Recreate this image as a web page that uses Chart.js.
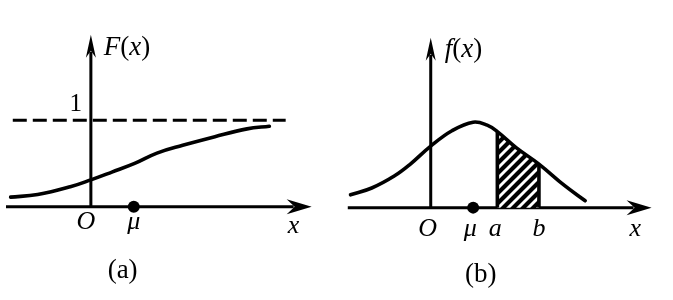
<!DOCTYPE html>
<html>
<head>
<meta charset="utf-8">
<script src="https://cdn.jsdelivr.net/npm/chart.js@4.4.1/dist/chart.umd.min.js"></script>
<style>
  html, body { margin: 0; padding: 0; background: #fff; }
  #wrap { position: relative; width: 673px; height: 300px; overflow: hidden; background: #fff; }
  .pane { position: absolute; top: 0; height: 300px; }
  #paneA { left: 0; width: 336px; }
  #paneB { left: 336px; width: 337px; }
</style>
</head>
<body>
<div id="wrap">
  <div class="pane" id="paneA"><canvas id="chartA" width="336" height="300"></canvas></div>
  <div class="pane" id="paneB"><canvas id="chartB" width="337" height="300"></canvas></div>
</div>
<script>
  // ── Data (math units) ───────────────────────────────────────────
  // (a) distribution function F(x)
  const cdfX = [-1.87, -1.24, -0.48, 0, 0.49, 1.02, 1.54, 2.14, 2.89, 3.64, 4.16];
  const cdfY = [0.11, 0.14, 0.23, 0.31, 0.40, 0.50, 0.62, 0.71, 0.81, 0.90, 0.93];
  const dashX = [-1.82, 4.54];
  const dashY = [1, 1];
  const muA = 1;

  // (b) density f(x)
  const pdfX = [-1.89, -1.39, -0.86, -0.48, 0, 0.5, 1.0, 1.33, 1.57, 2.02, 2.55, 3.15, 3.64];
  const pdfY = [0.15, 0.23, 0.37, 0.51, 0.72, 0.90, 1.00, 0.965, 0.89, 0.70, 0.51, 0.26, 0.08];
  const hatchX = [1.57, 2.02, 2.55];
  const hatchY = [0.89, 0.70, 0.51];
  const aVal = 1.57, bVal = 2.55;
  const muB = 1;

  // tick labels
  const ticksA = ['O', 'μ', 'x'];
  const tickValsA = [0, muA, 4.72];
  const ticksB = ['O', 'μ', 'a', 'b', 'x'];
  const tickValsB = [0, muB, aVal, bVal, 4.82];
  const captions = ['(a)', '(b)'];

  const pts = (xs, ys) => xs.map((x, i) => ({ x, y: ys[i] }));

  // ── Hatch pattern ───────────────────────────────────────────────
  function makeHatch() {
    const c = document.createElement('canvas');
    c.width = c.height = 10;
    const g = c.getContext('2d');
    g.fillStyle = '#000'; g.fillRect(0, 0, 10, 10);
    g.strokeStyle = '#fff'; g.lineWidth = 2.9;
    g.beginPath();
    g.moveTo(-5, 5); g.lineTo(5, -5);
    g.moveTo(0, 10); g.lineTo(10, 0);
    g.moveTo(5, 15); g.lineTo(15, 5);
    g.stroke();
    return g.createPattern(c, 'repeat');
  }

  // ── Drawing helpers ─────────────────────────────────────────────
  const SERIF = '"Liberation Serif", "DejaVu Serif", serif';

  function arrowH(ctx, tx, ty) {
    ctx.beginPath();
    ctx.moveTo(tx, ty);
    ctx.lineTo(tx - 25, ty - 7.5);
    ctx.lineTo(tx - 17, ty);
    ctx.lineTo(tx - 25, ty + 7.5);
    ctx.closePath(); ctx.fill();
  }
  function arrowV(ctx, tx, ty) {
    ctx.beginPath();
    ctx.moveTo(tx, ty);
    ctx.lineTo(tx - 5, ty + 23);
    ctx.lineTo(tx, ty + 16);
    ctx.lineTo(tx + 5, ty + 23);
    ctx.closePath(); ctx.fill();
  }
  function mixed(ctx, parts, x, y, size) {
    ctx.textAlign = 'left'; ctx.textBaseline = 'middle';
    for (const [t, it] of parts) {
      ctx.font = (it ? 'italic ' : '') + size + 'px ' + SERIF;
      ctx.fillText(t, x, y);
      x += ctx.measureText(t).width;
    }
  }
  function label(ctx, t, x, y, size, italic) {
    ctx.font = (italic ? 'italic ' : '') + size + 'px ' + SERIF;
    ctx.textAlign = 'center'; ctx.textBaseline = 'middle';
    ctx.fillText(t, x, y);
  }

  // axes plugin: draws the math axes with arrows at x=0 / y=0
  function axesPlugin(ext) {
    return {
      id: 'axes',
      beforeDatasetsDraw(chart) {
        const { ctx, scales: { x, y } } = chart;
        const x0 = x.getPixelForValue(0), y0 = y.getPixelForValue(0);
        const xs = x.getPixelForValue(ext.xFrom), xe = x.getPixelForValue(ext.xTo);
        const ye = y.getPixelForValue(ext.yTo);
        ctx.save();
        ctx.strokeStyle = '#000'; ctx.fillStyle = '#000'; ctx.lineWidth = 3;
        ctx.beginPath();
        ctx.moveTo(xs, y0); ctx.lineTo(xe - 18, y0);
        ctx.moveTo(x0, y0); ctx.lineTo(x0, ye + 17);
        ctx.stroke();
        arrowH(ctx, xe, y0);
        arrowV(ctx, x0, ye);
        ctx.restore();
      }
    };
  }

  function labelsPlugin(draw) {
    return { id: 'labels', afterDraw(chart) {
      const { ctx, scales: { x, y } } = chart;
      ctx.save(); ctx.fillStyle = '#000';
      draw(ctx, x, y);
      ctx.restore();
    } };
  }

  const baseOpts = (xmin, xmax, ymin, ymax) => ({
    responsive: false, animation: false, devicePixelRatio: 1,
    layout: { padding: 0 },
    plugins: { legend: { display: false }, tooltip: { enabled: false } },
    scales: {
      x: { type: 'linear', display: false, min: xmin, max: xmax },
      y: { type: 'linear', display: false, min: ymin, max: ymax }
    },
    elements: { point: { radius: 0 } }
  });

  const curve = (data) => ({
    data, borderColor: '#000', borderWidth: 3.6, fill: false,
    tension: 0.4, borderCapStyle: 'round', pointRadius: 0
  });

  // ── Chart (a) ───────────────────────────────────────────────────
  new Chart(document.getElementById('chartA'), {
    type: 'line',
    data: { datasets: [
      { ...curve(pts([muA], [0])), showLine: false, pointRadius: 6, pointBackgroundColor: '#000', pointBorderWidth: 0, order: 0 },
      { ...curve(pts(cdfX, cdfY)), order: 1 },
      { data: pts(dashX, dashY), borderColor: '#000', borderWidth: 3, borderDash: [14, 6], fill: false, pointRadius: 0, order: 2 }
    ] },
    options: baseOpts(-1.978, 5.573, -1.011, 2.322),
    plugins: [
      axesPlugin({ xFrom: -1.978, xTo: 5.146, yTo: 1.989 }),
      labelsPlugin((ctx, x, y) => {
        const x0 = x.getPixelForValue(0), y0 = y.getPixelForValue(0);
        mixed(ctx, [['F', true], ['(', false], ['x', true], [')', false]], x0 + 13, 48, 27);
        label(ctx, '1', x0 - 15, y.getPixelForValue(1) - 16, 25, false);
        ticksA.forEach((t, i) => {
          const off = t === 'O' ? -5 : 0;
          label(ctx, t, x.getPixelForValue(tickValsA[i]) + off, t === 'x' ? y0 + 20 : y0 + 16, 26, true);
        });
        label(ctx, captions[0], x.getPixelForValue(0.74), 271, 27, false);
      })
    ]
  });

  // ── Chart (b) ───────────────────────────────────────────────────
  const hatch = makeHatch();
  new Chart(document.getElementById('chartB'), {
    type: 'line',
    data: { datasets: [
      { ...curve(pts([muB], [0])), showLine: false, pointRadius: 6, pointBackgroundColor: '#000', pointBorderWidth: 0, order: 0 },
      { ...curve(pts(pdfX, pdfY)), order: 1 },
      { data: pts([aVal, aVal], [0, hatchY[0]]), borderColor: '#000', borderWidth: 3.6, pointRadius: 0, fill: false, order: 2 },
      { data: pts([bVal, bVal], [0, hatchY[hatchY.length - 1]]), borderColor: '#000', borderWidth: 3.6, pointRadius: 0, fill: false, order: 2 },
      { data: pts(hatchX, hatchY), borderWidth: 0, borderColor: 'rgba(0,0,0,0)', backgroundColor: hatch,
        fill: 'origin', tension: 0.4, pointRadius: 0, order: 3 }
    ] },
    options: baseOpts(-2.091, 5.568, -1.011, 2.36),
    plugins: [
      axesPlugin({ xFrom: -1.955, xTo: 5.205, yTo: 1.989 }),
      labelsPlugin((ctx, x, y) => {
        const x0 = x.getPixelForValue(0), y0 = y.getPixelForValue(0);
        mixed(ctx, [['f', true], ['(', false], ['x', true], [')', false]], x0 + 14, 50, 27);
        ticksB.forEach((t, i) => {
          const off = t === 'O' ? -3 : (t === 'μ' ? -3 : (t === 'a' ? -2 : 0));
          label(ctx, t, x.getPixelForValue(tickValsB[i]) + off, y0 + 22, 26, true);
        });
        label(ctx, captions[1], x.getPixelForValue(1.18), 275, 27, false);
      })
    ]
  });
</script>
</body>
</html>
